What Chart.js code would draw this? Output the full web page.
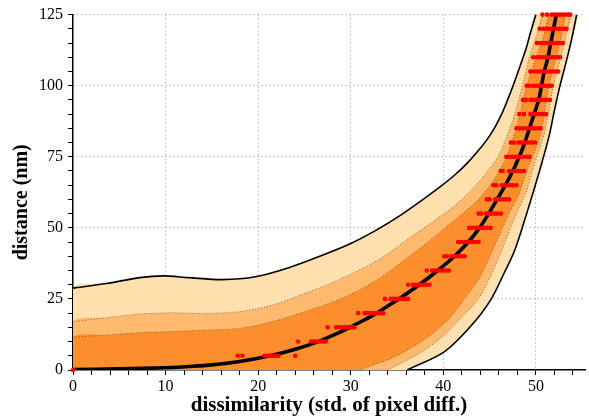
<!DOCTYPE html>
<html>
<head>
<meta charset="utf-8">
<script src="https://cdn.jsdelivr.net/npm/chart.js@4"></script>
<style>
  html, body { margin: 0; padding: 0; background: #fff; }
</style>
</head>
<body>
<canvas id="chart" width="589" height="416"></canvas>
<script>
// fitted curve: dissimilarity (x) vs distance (y)
const curveX = [0, 5, 10, 13, 15, 18, 21.3, 24, 26.5, 28.3, 29.9, 31.4, 32.8, 34, 35.2, 37.4, 39.4, 41.2, 42.7, 43.9, 44.9, 45.8, 46.7, 47.5, 48.2, 48.8, 49.3, 49.8, 50.3, 50.6, 50.9, 51.3, 51.6, 51.9, 52.2];
const curveY = [0.2, 0.4, 0.8, 1.3, 1.8, 3, 5, 7.3, 10, 12.5, 15, 17.5, 20, 22.5, 25, 30, 35, 40, 45, 50, 55, 60, 65, 70, 75, 80, 85, 90, 95, 100, 105, 110, 115, 120, 125];

// band edges, upper-left side
const outerLeftX = [0, 3.6, 7.2, 9.7, 12.5, 16.1, 19.7, 23.3, 26.8, 30.0, 32.8, 35.4, 37.6, 39.6, 41.2, 42.5, 43.6, 44.6, 45.5, 46.3, 47.0, 47.7, 48.3, 48.9, 49.4, 50.0];
const outerLeftY = [28.8, 30.4, 32.5, 33.1, 32.5, 31.8, 32.8, 36.0, 40.2, 44.5, 49.3, 54.5, 59.5, 64.3, 68.5, 72.5, 76.5, 80.5, 85.0, 90.0, 95.5, 101.5, 107.0, 112.7, 118.5, 125.0];
const midLeftX = [0, 3.6, 7.2, 10.7, 14.3, 17.9, 21.5, 25.0, 28.6, 32.9, 36.5, 40.1, 41.9, 43.5, 44.8, 45.9, 46.6, 47.1, 47.7, 48.3, 48.7, 49.3, 50.1, 50.8];
const midLeftY = [17.0, 18.4, 19.7, 20.1, 19.9, 20.5, 22.8, 26.9, 31.6, 38.6, 46.8, 55.0, 59.7, 65.0, 70.0, 75.0, 80.0, 84.3, 90.0, 97.0, 102.0, 110.0, 118.0, 125.0];
const innerLeftX = [0, 3.6, 7.2, 10.7, 14.3, 17.9, 21.5, 25.0, 28.6, 32.2, 36.5, 40.1, 43.7, 45.5, 46.8, 47.8, 48.4, 49.0, 49.8, 50.7, 51.5];
const innerLeftY = [11.5, 12.3, 13.1, 13.5, 14.0, 14.6, 17.0, 20.5, 24.6, 30.4, 40.4, 49.7, 59.7, 67.0, 75.0, 84.3, 92.0, 100.0, 108.0, 116.0, 125.0];

// band edges, lower-right side
const innerRightX = [31.0, 35.0, 38.5, 40.6, 42.2, 44.0, 45.3, 47.1, 48.2, 49.0, 50.0, 50.6, 51.4, 52.2, 52.8, 53.1];
const innerRightY = [0, 5, 12, 18, 24.6, 33, 42, 55, 62, 70, 78, 84.3, 100, 110, 118, 125];
const midRightX = [34.0, 37.5, 40.0, 41.8, 43.7, 45.1, 46.3, 47.9, 48.9, 49.6, 50.4, 51.0, 51.9, 52.7, 53.3, 53.7];
const midRightY = [0, 6, 12, 18, 24.6, 33, 42, 55, 62, 70, 78, 84.3, 100, 110, 118, 125];
const outerRightX = [36.1, 40.1, 42.9, 45.1, 46.7, 47.7, 49.0, 50.4, 51.4, 52.0, 52.6, 53.3, 53.9, 54.4];
const outerRightY = [0, 6.4, 15.2, 24.6, 35, 42, 55, 70.2, 82, 91.3, 100, 108.8, 117, 125];

// measured samples: distance level and dissimilarity values at that level
const dotLevels = [0, 5, 10, 15, 20, 25, 30, 35, 40, 45, 50, 55, 60, 65, 70, 75, 80, 85, 90, 95, 100, 105, 110, 115, 120, 125];
const dotX = [
  [0],
  [17.8, 18.3, 20.7, 21.0, 21.2, 21.4, 21.6, 21.9, 22.2, 24.0],
  [24.3, 25.7, 26.0, 26.2, 26.5, 26.7, 27.0, 27.3],
  [27.5, 28.4, 28.7, 29.0, 29.3, 29.6, 29.9, 30.1, 30.4],
  [30.8, 31.5, 31.8, 32.1, 32.4, 32.7, 33.0, 33.3, 33.5],
  [33.7, 34.3, 34.6, 34.9, 35.2, 35.5, 35.8, 36.0, 36.2],
  [36.2, 36.7, 37.0, 37.3, 37.6, 37.9, 38.2, 38.5],
  [38.2, 38.8, 39.1, 39.4, 39.7, 40.0, 40.3, 40.6],
  [40.1, 40.4, 40.9, 41.2, 41.5, 41.8, 42.1, 42.3],
  [41.6, 41.9, 42.3, 42.6, 42.9, 43.2, 43.5, 43.8],
  [42.8, 43.1, 43.5, 43.8, 44.1, 44.4, 44.7, 45.1],
  [43.8, 44.1, 44.6, 44.9, 45.2, 45.5, 45.8, 46.2],
  [44.7, 45.0, 45.6, 45.9, 46.2, 46.5, 46.8, 47.1],
  [45.4, 45.7, 46.3, 46.6, 46.9, 47.2, 47.5, 47.9],
  [46.2, 46.4, 47.1, 47.4, 47.7, 48.0, 48.3, 48.7],
  [46.8, 47.1, 47.4, 47.7, 48.0, 48.3, 48.6, 49.0, 49.3],
  [47.3, 47.6, 48.1, 48.4, 48.7, 49.0, 49.3, 49.6, 49.9],
  [47.9, 48.2, 48.6, 49.0, 49.3, 49.6, 49.9, 50.2, 50.5],
  [48.2, 48.7, 49.4, 49.7, 50.0, 50.3, 50.6, 50.9, 51.1],
  [48.6, 48.9, 49.4, 49.7, 50.0, 50.3, 50.6, 50.9, 51.2, 51.5],
  [49.0, 49.3, 49.7, 50.0, 50.3, 50.6, 50.9, 51.2, 51.5, 51.7],
  [49.4, 49.8, 50.1, 50.4, 50.7, 51.0, 51.3, 51.6, 51.9, 52.2, 52.4],
  [49.7, 50.1, 50.4, 50.7, 51.0, 51.3, 51.6, 51.9, 52.2, 52.4, 52.6],
  [50.1, 50.4, 50.8, 51.1, 51.4, 51.7, 52.0, 52.3, 52.6, 52.9],
  [50.4, 50.8, 51.1, 51.4, 51.7, 52.0, 52.3, 52.6, 52.9, 53.1, 53.3],
  [50.7, 51.2, 51.7, 52.0, 52.3, 52.6, 52.9, 53.2, 53.5, 53.7]
];

// axis ticks
const xTicks = [0, 2, 4, 6, 8, 10, 12, 14, 16, 18, 20, 22, 24, 26, 28, 30, 32, 34, 36, 38, 40, 42, 44, 46, 48, 50, 52, 54];
const yTicks = [0, 5, 10, 15, 20, 25, 30, 35, 40, 45, 50, 55, 60, 65, 70, 75, 80, 85, 90, 95, 100, 105, 110, 115, 120, 125];
const xLabels = [0, 10, 20, 30, 40, 50];
const yLabels = [0, 25, 50, 75, 100, 125];

const pts = (xs, ys) => xs.map((x, i) => ({x: x, y: ys[i]}));

// closed band shape: origin corner, up the left edge, down the right edge
const band = (lx, ly, rx, ry) =>
    [{x: 0, y: 0}].concat(pts(lx, ly), pts(rx, ry).reverse());

const dots = [];
dotLevels.forEach((lv, i) => {
    dotX[i].forEach(x => dots.push({x: x, y: lv}));
});

const edge = (data, color, width, dash, order) => ({
    data: data,
    showLine: true,
    fill: false,
    borderColor: color,
    borderWidth: width,
    borderDash: dash,
    pointRadius: 0,
    tension: 0.3,
    order: order
});

const area = (data, color, order) => ({
    data: data,
    showLine: true,
    fill: 'shape',
    backgroundColor: color,
    borderColor: 'transparent',
    borderWidth: 0,
    pointRadius: 0,
    tension: 0.3,
    order: order
});

const serif = "'Liberation Serif', 'DejaVu Serif', serif";
const dotted = "#9a9a9a";
const bandLine = "rgba(110, 70, 30, 0.75)";

new Chart(document.getElementById("chart"), {

    type: "scatter",

    data: {
        datasets: [
            {
                data: dots,
                pointRadius: 2.3,
                pointBorderWidth: 0,
                pointBackgroundColor: "#ff0000",
                showLine: false,
                clip: false,
                order: 0
            },
            edge(pts(curveX, curveY), "#000", 3.6, [], 1),
            edge(pts(outerLeftX, outerLeftY), "#000", 1.6, [], 2),
            edge(pts(outerRightX, outerRightY), "#000", 1.6, [], 2),
            edge(pts(midLeftX, midLeftY), bandLine, 1, [1, 2], 3),
            edge(pts(midRightX, midRightY), bandLine, 1, [1, 2], 3),
            edge(pts(innerLeftX, innerLeftY), bandLine, 1, [1, 2], 3),
            edge(pts(innerRightX, innerRightY), bandLine, 1, [1, 2], 3),
            area(band(innerLeftX, innerLeftY, innerRightX, innerRightY), "#fc8e2c", 4),
            area(band(midLeftX, midLeftY, midRightX, midRightY), "#fdb96e", 5),
            area(band(outerLeftX, outerLeftY, outerRightX, outerRightY), "#fedfae", 6)
        ]
    },

    options: {
        responsive: false,
        animation: false,
        events: [],
        devicePixelRatio: 1,
        layout: {
            padding: {top: 14, right: 0, bottom: 0, left: 0}
        },
        plugins: {
            legend: {display: false},
            tooltip: {enabled: false}
        },
        scales: {
            x: {
                type: "linear",
                min: 0,
                max: 55.3,
                afterBuildTicks: ax => { ax.ticks = xTicks.map(v => ({value: v})); },
                afterFit: ax => { ax.height = 46; },
                ticks: {
                    autoSkip: false,
                    maxRotation: 0,
                    padding: 2,
                    color: "#000",
                    font: {family: serif, size: 16},
                    callback: v => xLabels.includes(v) ? String(v) : ""
                },
                grid: {
                    color: c => (c.tick && c.tick.value !== 0 && xLabels.includes(c.tick.value)) ? dotted : "transparent",
                    lineWidth: 1,
                    tickColor: "#000",
                    tickLength: 5
                },
                border: {color: "#000", width: 1.5, dash: [1, 3]},
                title: {
                    display: true,
                    text: "dissimilarity (std. of pixel diff.)",
                    color: "#000",
                    font: {family: serif, size: 21, weight: "bold", lineHeight: 1},
                    padding: {top: 0, bottom: 0}
                }
            },
            y: {
                type: "linear",
                min: 0,
                max: 125,
                afterBuildTicks: ax => { ax.ticks = yTicks.map(v => ({value: v})); },
                afterFit: ax => { ax.width = 73; },
                ticks: {
                    autoSkip: false,
                    padding: 5,
                    color: "#000",
                    font: {family: serif, size: 16},
                    callback: v => yLabels.includes(v) ? String(v) : ""
                },
                grid: {
                    color: c => (c.tick && c.tick.value !== 0 && yLabels.includes(c.tick.value)) ? dotted : "transparent",
                    lineWidth: 1,
                    tickColor: "#000",
                    tickLength: 5
                },
                border: {color: "#000", width: 1.5, dash: [1, 3]},
                title: {
                    display: true,
                    // trailing spaces nudge the rotated title a little lower, as in the original
                    text: "distance (nm)    ",
                    color: "#000",
                    font: {family: serif, size: 20, weight: "bold", lineHeight: 1},
                    padding: {top: 12, bottom: 0}
                }
            }
        }
    }
});
</script>
</body>
</html>
